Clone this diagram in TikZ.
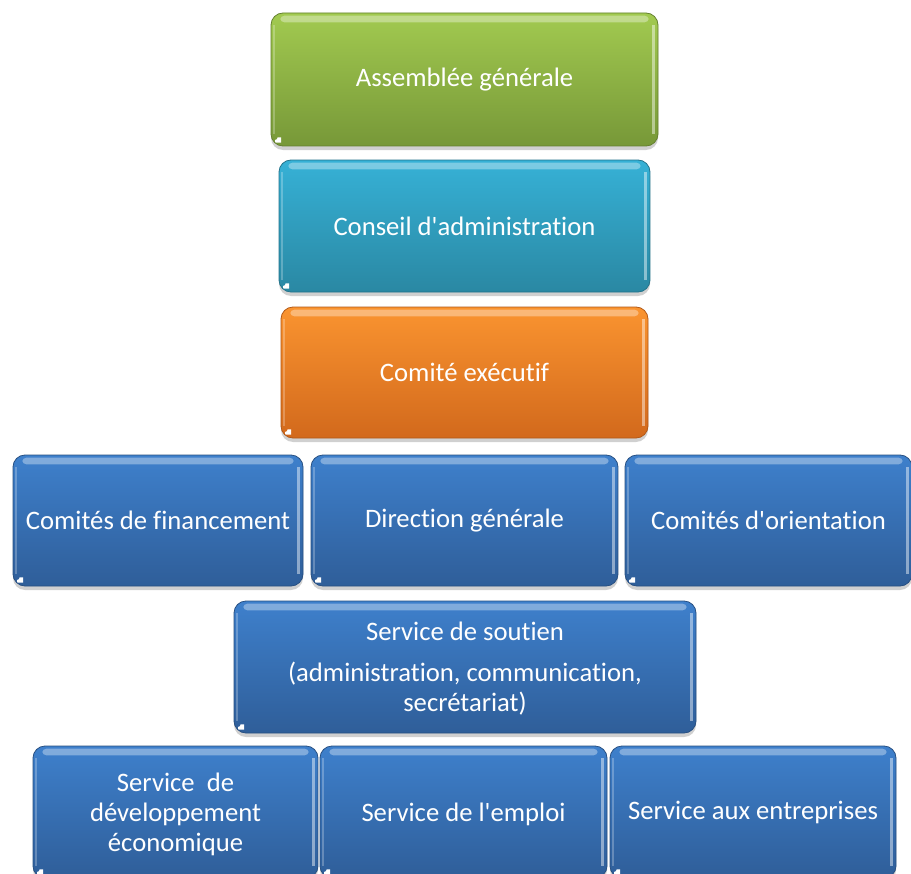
\documentclass[tikz,border=0pt]{standalone}
\usepackage{fontspec}
\setmainfont{Carlito}[Ligatures={NoCommon}]
\usetikzlibrary{shadows}
\definecolor{gtop}{HTML}{A2CA50}
\definecolor{gbot}{HTML}{779838}
\definecolor{ctop}{HTML}{36B1D6}
\definecolor{cbot}{HTML}{2A88A3}
\definecolor{otop}{HTML}{FA9430}
\definecolor{obot}{HTML}{D2691C}
\definecolor{btop}{HTML}{3E80CC}
\definecolor{bbot}{HTML}{2F5E99}
\tikzset{
  gbox/.style={rectangle, rounded corners=9pt, inner sep=4pt,
    font=\fontsize{20}{22.5}\selectfont, text=white, align=center,
    draw=#1bot!85!black, line width=0.6pt,
    top color=#1top, bottom color=#1bot,
    drop shadow={shadow xshift=0pt, shadow yshift=-3pt, opacity=0.3, fill=black!60},
    path picture={
      \fill[white, opacity=0.35, rounded corners=3pt]
        ([xshift=7pt,yshift=-2pt]path picture bounding box.north west) rectangle
        ([xshift=-7pt,yshift=-7pt]path picture bounding box.north east);
      \fill[white, opacity=0.45, sharp corners]
        ([xshift=-4.5pt,yshift=-9pt]path picture bounding box.north east) rectangle
        ([xshift=-2.5pt,yshift=9pt]path picture bounding box.south east);
      \fill[white, opacity=0.25, sharp corners]
        ([xshift=1.5pt,yshift=-9pt]path picture bounding box.north west) rectangle
        ([xshift=3pt,yshift=9pt]path picture bounding box.south west);
      \fill[white, sharp corners]
        ([xshift=3pt,yshift=2.5pt]path picture bounding box.south west)
        -- ([xshift=7.5pt,yshift=2.5pt]path picture bounding box.south west)
        -- ([xshift=7.5pt,yshift=6.5pt]path picture bounding box.south west)
        -- ([xshift=5pt,yshift=6.5pt]path picture bounding box.south west)
        to[out=-90,in=0] ([xshift=3pt,yshift=4.5pt]path picture bounding box.south west)
        -- cycle;
    }},
}
\begin{document}
\begin{tikzpicture}[x=0.75pt,y=-0.75pt]
\useasboundingbox[fill=white] (0,0) rectangle (911,874);
\node[gbox=g, minimum width=290.25pt, minimum height=99.75pt] (ag) at (464.5,79.5) {Assemblée générale};
\node[gbox=c, minimum width=278.25pt, minimum height=99pt] (ca) at (464.5,226) {Conseil d\textquotesingle administration};
\node[gbox=o, minimum width=275.25pt, minimum height=98.25pt] (ce) at (464.5,372.5) {Comité exécutif};
\node[gbox=b, minimum width=217.5pt, minimum height=98.25pt] (cf) at (158,520.5) {Comités de financement};
\node[gbox=b, minimum width=230.25pt, minimum height=98.25pt] (dg) at (464.5,520.5) {Direction générale};
\node[gbox=b, minimum width=215.25pt, minimum height=98.25pt] (co) at (768.5,520.5) {Comités d\textquotesingle orientation};
\node[gbox=b, minimum width=346.5pt, minimum height=99pt] (ss) at (465,667) {\rule{0pt}{16pt}Service de soutien\\[8pt](administration, communication,\\secrétariat)};
\node[gbox=b, minimum width=213.75pt, minimum height=99pt] (sd) at (175.5,812) {\rule{0pt}{18pt}Service\ \ de\\développement\\économique};
\node[gbox=b, minimum width=215.25pt, minimum height=99pt] (se) at (463.5,812) {\rule{0pt}{18pt}Service de l\textquotesingle emploi};
\node[gbox=b, minimum width=214.5pt, minimum height=99pt] (sa) at (753,812) {Service aux entreprises};
\end{tikzpicture}
\end{document}
